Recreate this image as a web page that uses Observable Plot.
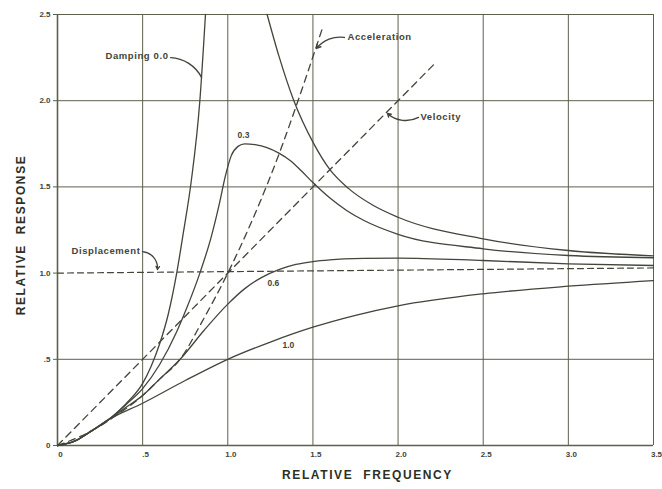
<!DOCTYPE html>
<html>
<head>
<meta charset="utf-8">
<script src="https://cdn.jsdelivr.net/npm/d3@7"></script>
<script src="https://cdn.jsdelivr.net/npm/@observablehq/plot@0.6"></script>
<style>
  html, body { margin: 0; padding: 0; background: #fff; }
  #chart { width: 662px; height: 489px; }
</style>
</head>
<body>
<div id="chart"></div>
<script>
// ---- axis ticks ----
const xTicks = [0, 0.5, 1.0, 1.5, 2.0, 2.5, 3.0, 3.5];
const xTickLabels = ["0", ".5", "1.0", "1.5", "2.0", "2.5", "3.0", "3.5"];
const yTicks = [0, 0.5, 1.0, 1.5, 2.0, 2.5];
const yTickLabels = ["0", ".5", "1.0", "1.5", "2.0", "2.5"];
const yGridLines = [0.5, 1.5, 2.0, 2.5];

// ---- damping 0.0 (below resonance) ----
const freqD0a = [0, 0.1, 0.2, 0.3, 0.4, 0.5, 0.55, 0.6, 0.65, 0.7, 0.74, 0.785, 0.836, 0.869];
const respD0a = [0, 0.025, 0.085, 0.15, 0.24, 0.36, 0.46, 0.59, 0.76, 1.0, 1.24, 1.53, 2.0, 2.5];
// ---- damping 0.0 (above resonance) ----
const freqD0b = [1.231, 1.3, 1.388, 1.5, 1.6, 1.71, 1.85, 2.0, 2.5, 3.0, 3.5];
const respD0b = [2.5, 2.26, 2.0, 1.76, 1.6, 1.49, 1.395, 1.324, 1.199, 1.131, 1.10];
// ---- damping 0.3 ----
const freqD3 = [0, 0.1, 0.2, 0.3, 0.4, 0.5, 0.6, 0.7, 0.76, 0.836, 0.9, 0.95, 0.985, 1.02, 1.06, 1.1, 1.16, 1.23, 1.3, 1.368, 1.43, 1.5, 1.6, 1.7, 1.8, 2.0, 2.5, 3.0, 3.5];
const respD3 = [0, 0.025, 0.085, 0.15, 0.235, 0.33, 0.47, 0.66, 0.8, 1.0, 1.2, 1.4, 1.56, 1.68, 1.735, 1.75, 1.745, 1.728, 1.696, 1.652, 1.595, 1.525, 1.435, 1.362, 1.305, 1.225, 1.141, 1.102, 1.089];
// ---- damping 0.6 ----
const freqD6 = [0, 0.1, 0.2, 0.3, 0.4, 0.5, 0.6, 0.72, 0.86, 1.0, 1.1, 1.2, 1.3, 1.4, 1.5, 1.6, 1.8, 2.0, 2.5, 3.0, 3.5];
const respD6 = [0, 0.025, 0.085, 0.15, 0.22, 0.29, 0.385, 0.5, 0.667, 0.82, 0.91, 0.975, 1.02, 1.05, 1.067, 1.077, 1.085, 1.087, 1.073, 1.054, 1.044];
// ---- damping 1.0 ----
const freqD10 = [0, 0.1, 0.2, 0.3, 0.5, 0.75, 1.0, 1.25, 1.5, 1.75, 2.0, 2.5, 3.0, 3.5];
const respD10 = [0, 0.025, 0.085, 0.15, 0.245, 0.377, 0.5, 0.6, 0.686, 0.755, 0.81, 0.88, 0.924, 0.957];
// ---- reference lines ----
const freqVel = [0, 2.22];
const respVel = [0, 2.22];
const freqAcc = [0, 0.2, 0.33, 0.5, 0.6, 0.72, 0.85, 1.0, 1.25, 1.554];
const respAcc = [0, 0.085, 0.165, 0.29, 0.385, 0.5, 0.72, 1.0, 1.56, 2.415];
const freqDisp = [0, 3.5];
const respDisp = [1.0, 1.03];

// ---- labels ----
const curveLabels = ["0.3", "0.6", "1.0"];
const curveLabelX = [1.092, 1.268, 1.356];
const curveLabelY = [1.80, 0.94, 0.58];

const toRows = (xs, ys) => xs.map((x, i) => ({x, y: ys[i]}));

const ink = "#41453a";
const grid = "#5c604e";
const font = "'Liberation Sans', Arial, sans-serif";

const lineOpts = {x: "x", y: "y", stroke: ink, strokeWidth: 1.3, curve: "monotone-x"};
const dashOpts = {x: "x", y: "y", stroke: ink, strokeWidth: 1.3, strokeDasharray: "7,5"};

const annot = {fill: ink, fontSize: 9.5, fontWeight: "bold", fontFamily: font};

const plot = Plot.plot({
  width: 662,
  height: 489,
  marginLeft: 57,
  marginRight: 9,
  marginTop: 14,
  marginBottom: 44,
  x: {domain: [0, 3.5]},
  y: {domain: [0, 2.5]},
  style: {background: "#fff", fontFamily: font, color: ink, overflow: "visible"},
  marks: [
    Plot.ruleX(xTicks, {stroke: grid, strokeWidth: d => d === 0 ? 1.6 : 1}),
    Plot.ruleY(yGridLines, {stroke: grid, strokeWidth: 1}),
    Plot.ruleY([0], {stroke: grid, strokeWidth: 1.6}),
    Plot.axisY({ticks: yTicks, tickFormat: d => yTickLabels[yTicks.indexOf(d)], tickSize: 4, tickPadding: 3, label: null, fontSize: 8, fontWeight: "bold", stroke: grid}),
    Plot.axisX({ticks: xTicks, tickFormat: d => xTickLabels[xTicks.indexOf(d)], tickSize: 0, tickPadding: 6, dx: 3, label: null, fontSize: 8, fontWeight: "bold"}),
    // reference dashed lines
    Plot.line(toRows(freqDisp, respDisp), {...dashOpts, strokeDasharray: "6,4", strokeWidth: 1.2}),
    Plot.line(toRows(freqVel, respVel), dashOpts),
    Plot.line(toRows(freqAcc, respAcc), {...dashOpts, curve: "monotone-x"}),
    // response curves
    Plot.line(toRows(freqD0a, respD0a), lineOpts),
    Plot.line(toRows(freqD0b, respD0b), lineOpts),
    Plot.line(toRows(freqD3, respD3), lineOpts),
    Plot.line(toRows(freqD6, respD6), lineOpts),
    Plot.line(toRows(freqD10, respD10), lineOpts),
    // curve labels
    Plot.text(curveLabels, {x: (d, i) => curveLabelX[i], y: (d, i) => curveLabelY[i], text: d => d, ...annot, fontSize: 8.5}),
    Plot.text(["Damping 0.0"], {x: [0.652], y: [2.262], text: d => d, textAnchor: "end", ...annot}),
    Plot.text(["Acceleration"], {x: [1.703], y: [2.367], text: d => d, textAnchor: "start", ...annot}),
    Plot.text(["Velocity"], {x: [2.131], y: [1.903], text: d => d, textAnchor: "start", ...annot}),
    Plot.text(["Displacement"], {x: [0.487], y: [1.131], text: d => d, textAnchor: "end", ...annot}),
    // leaders
    Plot.arrow([{x1: 0.664, y1: 2.25, x2: 0.846, y2: 2.135}], {x1: "x1", y1: "y1", x2: "x2", y2: "y2", bend: 30, headLength: 0, stroke: ink, strokeWidth: 1.4}),
    Plot.arrow([{x1: 1.685, y1: 2.367, x2: 1.521, y2: 2.303}], {x1: "x1", y1: "y1", x2: "x2", y2: "y2", bend: -30, headLength: 5, stroke: ink, strokeWidth: 1.4}),
    Plot.arrow([{x1: 2.12, y1: 1.903, x2: 1.938, y2: 1.926}], {x1: "x1", y1: "y1", x2: "x2", y2: "y2", bend: 35, headLength: 4, stroke: ink, strokeWidth: 1.4}),
    Plot.arrow([{x1: 0.499, y1: 1.125, x2: 0.587, y2: 1.021}], {x1: "x1", y1: "y1", x2: "x2", y2: "y2", bend: 45, headLength: 4, stroke: ink, strokeWidth: 1.3}),
    // axis titles
    Plot.text(["RELATIVE FREQUENCY"], {frameAnchor: "bottom", textAnchor: "middle", dx: 12, dy: 33, text: d => d, fill: "#2c2f25", fontSize: 12, fontWeight: "bold", fontFamily: font}),
    Plot.text(["RELATIVE RESPONSE"], {frameAnchor: "left", textAnchor: "middle", rotate: -90, dx: -36, dy: 5, text: d => d, fill: "#2c2f25", fontSize: 12, fontWeight: "bold", fontFamily: font})
  ]
});

const sel = d3.select(plot);
sel.selectAll("text")
  .filter(function() { return this.textContent.startsWith("RELATIVE"); })
  .attr("letter-spacing", "1.6")
  .attr("word-spacing", "5");
sel.selectAll("text")
  .filter(function() { return ["Damping 0.0", "Acceleration", "Velocity", "Displacement"].includes(this.textContent); })
  .attr("letter-spacing", "0.6");

document.getElementById("chart").appendChild(plot);
</script>
</body>
</html>
